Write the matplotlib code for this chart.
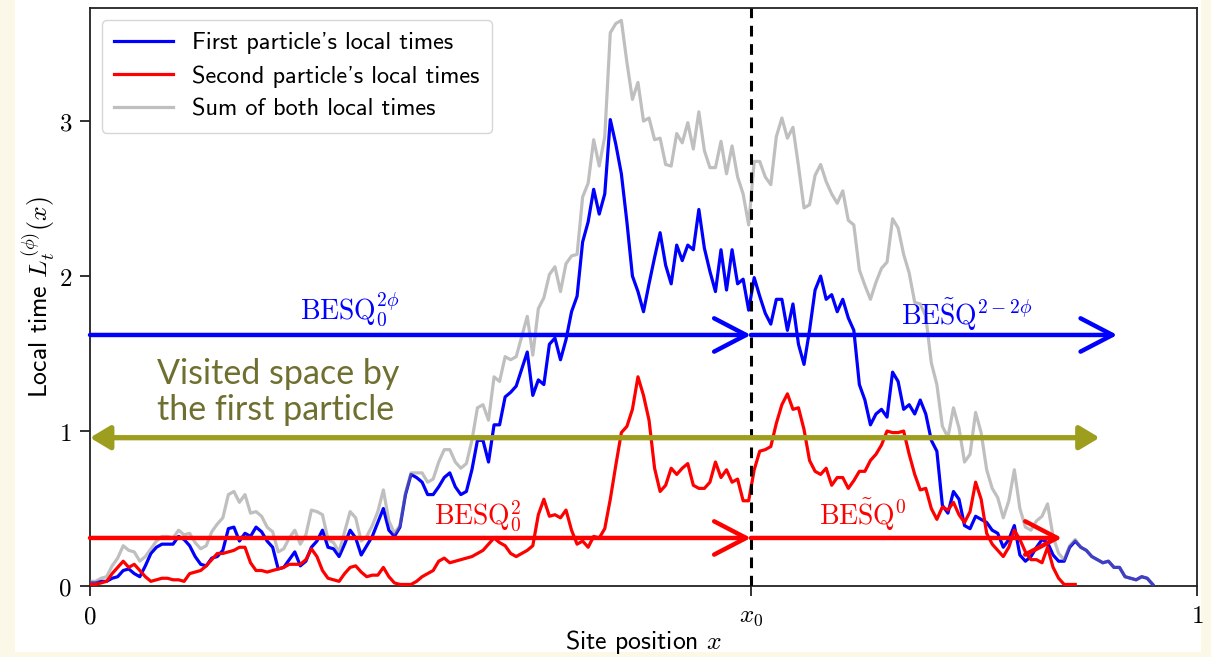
import numpy as np
import matplotlib
matplotlib.use("Agg")
import matplotlib.pyplot as plt
from matplotlib.patches import Rectangle

# ---------------- data ----------------
site_step = 0.005  # spacing of the site grid along x

first_local_times = [
    0.02, 0.02, 0.03, 0.03, 0.05, 0.06, 0.10, 0.11, 0.08, 0.06,
    0.13, 0.21, 0.25, 0.27, 0.27, 0.27, 0.32, 0.30, 0.26, 0.19,
    0.14, 0.13, 0.18, 0.19, 0.23, 0.37, 0.38, 0.29, 0.34, 0.32,
    0.38, 0.35, 0.29, 0.25, 0.11, 0.12, 0.17, 0.22, 0.13, 0.16,
    0.25, 0.29, 0.36, 0.25, 0.24, 0.19, 0.27, 0.36, 0.31, 0.20,
    0.26, 0.32, 0.41, 0.50, 0.36, 0.32, 0.38, 0.59, 0.72, 0.70,
    0.67, 0.59, 0.59, 0.64, 0.70, 0.73, 0.64, 0.59, 0.61, 0.75,
    0.94, 0.94, 0.80, 1.04, 1.04, 1.22, 1.25, 1.29, 1.40, 1.51,
    1.23, 1.33, 1.30, 1.56, 1.60, 1.46, 1.59, 1.77, 1.87, 2.22,
    2.35, 2.56, 2.40, 2.53, 3.01, 2.85, 2.66, 2.35, 2.00, 1.90,
    1.77, 1.95, 2.12, 2.28, 2.07, 1.95, 2.20, 2.10, 2.20, 2.17,
    2.43, 2.18, 2.03, 1.90, 2.17, 1.91, 2.17, 1.95, 1.98, 1.78,
    1.99, 1.87, 1.76, 1.69, 1.85, 1.85, 1.65, 1.82, 1.56, 1.43,
    1.65, 1.91, 2.00, 1.85, 1.88, 1.77, 1.85, 1.73, 1.65, 1.30,
    1.20, 1.04, 1.11, 1.14, 1.09, 1.38, 1.32, 1.14, 1.17, 1.11,
    1.20, 1.11, 0.94, 0.87, 0.52, 0.47, 0.61, 0.56, 0.39, 0.37,
    0.45, 0.43, 0.41, 0.36, 0.34, 0.25, 0.30, 0.39, 0.20, 0.16,
    0.19, 0.25, 0.30, 0.28, 0.20, 0.16, 0.16, 0.25, 0.29, 0.25,
    0.23, 0.19, 0.17, 0.15, 0.16, 0.12, 0.12, 0.06, 0.05, 0.04,
    0.06, 0.05, 0.01,
]

second_local_times = [
    0.01, 0.01, 0.02, 0.03, 0.08, 0.12, 0.16, 0.12, 0.14, 0.10,
    0.06, 0.03, 0.04, 0.05, 0.05, 0.04, 0.04, 0.03, 0.08, 0.09,
    0.10, 0.13, 0.17, 0.21, 0.21, 0.22, 0.23, 0.25, 0.25, 0.15,
    0.10, 0.10, 0.09, 0.10, 0.11, 0.12, 0.14, 0.14, 0.14, 0.17,
    0.24, 0.19, 0.10, 0.05, 0.04, 0.03, 0.08, 0.12, 0.13, 0.09,
    0.06, 0.07, 0.07, 0.12, 0.06, 0.02, 0.01, 0.01, 0.01, 0.03,
    0.06, 0.08, 0.10, 0.16, 0.18, 0.15, 0.16, 0.17, 0.18, 0.19,
    0.21, 0.23, 0.27, 0.31, 0.28, 0.26, 0.21, 0.19, 0.21, 0.23,
    0.26, 0.46, 0.56, 0.45, 0.46, 0.44, 0.49, 0.36, 0.27, 0.29,
    0.25, 0.32, 0.31, 0.37, 0.56, 0.78, 0.99, 1.03, 1.14, 1.35,
    1.23, 1.07, 0.76, 0.61, 0.65, 0.76, 0.72, 0.76, 0.79, 0.65,
    0.63, 0.63, 0.67, 0.80, 0.70, 0.75, 0.67, 0.69, 0.55, 0.55,
    0.75, 0.87, 0.88, 0.90, 1.05, 1.17, 1.24, 1.14, 1.15, 1.01,
    0.81, 0.74, 0.72, 0.76, 0.65, 0.70, 0.70, 0.63, 0.68, 0.74,
    0.74, 0.81, 0.85, 0.91, 1.00, 0.99, 0.99, 1.00, 0.85, 0.72,
    0.62, 0.63, 0.50, 0.43, 0.51, 0.49, 0.54, 0.46, 0.41, 0.48,
    0.67, 0.56, 0.34, 0.27, 0.23, 0.19, 0.25, 0.36, 0.30, 0.22,
    0.17, 0.17, 0.15, 0.25, 0.12, 0.05, 0.01, 0.01, 0.01,
]

x0_position = 0.597
legend_labels = ["First particle's local times",
                 "Second particle's local times",
                 "Sum of both local times"]
y_ticks = [0, 1, 2, 3]
y_tick_labels = ["$0$", "$1$", "$2$", "$3$"]
x_tick_labels = ["$0$", "$x_0$", "$1$"]

# arrow levels / extents
blue_arrow_level = 1.62
blue_arrow_end = 0.928
red_arrow_level = 0.31
red_arrow_end = 0.878
visited_level = 0.957
visited_end = 0.912

# ---------------- derived ----------------
blue = np.array(first_local_times)
red = np.array(second_local_times)
x_blue = np.arange(len(blue)) * site_step
x_red = np.arange(len(red)) * site_step
red_full = np.zeros_like(blue)
red_full[:len(red)] = red
total = blue + red_full

# ---------------- style ----------------
plt.rcParams['mathtext.fontset'] = 'cm'
plt.rcParams['axes.unicode_minus'] = False
sans = ['cmss10', 'DejaVu Sans']

fig = plt.figure(figsize=(12.11, 6.57), dpi=100)
fig.patch.set_facecolor('#fbf8e8')
bg = Rectangle((15 / 1211, 1 - 652 / 657), (1201 - 15) / 1211, 652 / 657,
               transform=fig.transFigure, facecolor='white', edgecolor='none', zorder=-10)
fig.add_artist(bg)

ax = fig.add_axes([90 / 1211, 1 - 586 / 657, (1197 - 90) / 1211, (586 - 8) / 657])
ax.set_zorder(1)
ax.set_facecolor('white')

l1, = ax.plot(x_blue, blue, color='#0000ff', lw=2.3, label=legend_labels[0], zorder=3)
l2, = ax.plot(x_red, red, color='#ff0000', lw=2.3, label=legend_labels[1], zorder=3)
l3, = ax.plot(x_blue, total, color='gray', alpha=0.5, lw=2.3, label=legend_labels[2], zorder=4)

ax.axvline(x0_position, color='black', ls=(0, (3.5, 2.5)), lw=2.2, zorder=5)

def harrow(x_start, x_end, level, color, style, lw):
    ax.annotate('', xy=(x_end, level), xytext=(x_start, level),
                arrowprops=dict(arrowstyle=style, color=color, lw=lw,
                                shrinkA=0, shrinkB=0, mutation_scale=20),
                zorder=6)

open_head = '->,head_length=1.15,head_width=0.6'
harrow(0, x0_position, blue_arrow_level, '#0000ff', open_head, 3.2)
harrow(x0_position, blue_arrow_end, blue_arrow_level, '#0000ff', open_head, 3.2)
harrow(0, x0_position, red_arrow_level, '#ff0000', open_head, 3.2)
harrow(x0_position, red_arrow_end, red_arrow_level, '#ff0000', open_head, 3.2)
harrow(0, visited_end, visited_level, '#9d9d1e', '<|-|>,head_length=0.6,head_width=0.36', 3.8)

ax.text(0.235, 1.78, r'$\mathrm{BESQ}_0^{2\phi}$', color='#0000ff', fontsize=20,
        ha='center', va='center', zorder=7)
ax.text(0.792, 1.75, r'$\tilde{\mathrm{BESQ}}^{2-2\phi}$', color='#0000ff', fontsize=20,
        ha='center', va='center', zorder=7)
ax.text(0.35, 0.45, r'$\mathrm{BESQ}_0^{2}$', color='#ff0000', fontsize=20,
        ha='center', va='center', zorder=7)
ax.text(0.698, 0.46, r'$\tilde{\mathrm{BESQ}}^{0}$', color='#ff0000', fontsize=20,
        ha='center', va='center', zorder=7)

ax.text(0.0605, 1.25, 'Visited space by\nthe first particle', color='#6f6f30',
        fontsize=24.5, family=['Lato', 'DejaVu Sans'], ha='left', va='center',
        linespacing=1.15, zorder=7)

ax.set_xlim(0, 1)
ax.set_ylim(0, 3.73)
ax.set_xticks([0, x0_position, 1])
ax.set_xticklabels(x_tick_labels)
ax.set_yticks(y_ticks)
ax.set_yticklabels(y_tick_labels)
ax.tick_params(axis='both', labelsize=18, length=7, width=1.3, direction='out',
               color='#222222', pad=6)
for s in ax.spines.values():
    s.set_linewidth(1.3)
    s.set_color('#222222')

ax.set_xlabel(r'Site position $x$', fontsize=18.5, family=sans, labelpad=0)
ax.set_ylabel(r'Local time $L_t^{(\phi)}(x)$', fontsize=18.5, family=sans, labelpad=1)

leg = ax.legend(handles=[l1, l2, l3], loc='upper left', prop={'family': sans, 'size': 17.5},
                frameon=True, fancybox=True, framealpha=0.8, edgecolor='#cccccc',
                handlelength=2.4, borderpad=0.5, labelspacing=0.45, handletextpad=0.8,
                bbox_to_anchor=(0.0, 1.0), borderaxespad=0.5)
leg.set_zorder(10)
for h in leg.get_lines():
    h.set_linewidth(2.3)

fig.savefig('out.png', dpi=100, facecolor=fig.get_facecolor())
